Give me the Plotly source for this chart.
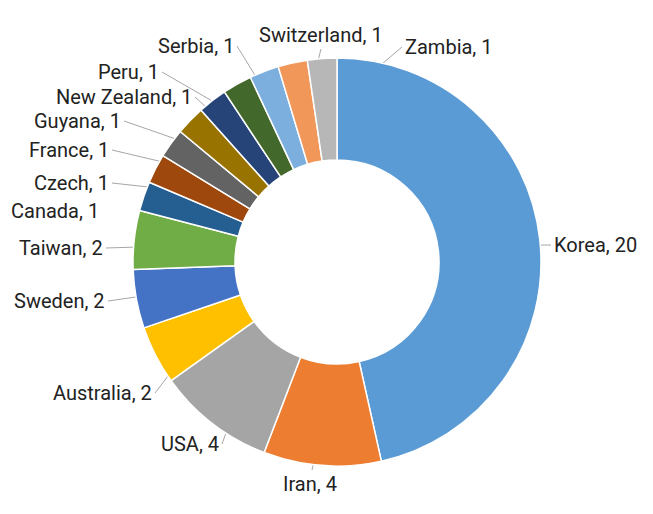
import math
import plotly.graph_objects as go

# data
countries = ["Korea", "Iran", "USA", "Australia", "Sweden", "Taiwan", "Canada",
             "Czech", "France", "Guyana", "New Zealand", "Peru", "Serbia",
             "Switzerland", "Zambia"]
counts = [20, 4, 4, 2, 2, 2, 1, 1, 1, 1, 1, 1, 1, 1, 1]
colors = ["#5B9BD5", "#ED7D31", "#A5A5A5", "#FFC000", "#4472C4", "#70AD47",
          "#255E91", "#9E480E", "#636363", "#997300", "#264478", "#43682B",
          "#7CAFDD", "#F1975A", "#B7B7B7"]

W, H = 653, 514
PAD = 8  # page body margin around the plot div
cx, cy, R = 337, 262, 204  # donut centre / radius in page pixels

# where each leader line meets its label: (x, y, text anchor, show line)
label_pos = {
    "Korea": (551, 245, "left", True),
    "Iran": (312, 470, "below", True),
    "USA": (222, 444, "right", True),
    "Australia": (155, 393, "right", True),
    "Sweden": (108, 301, "right", True),
    "Taiwan": (106, 248, "right", True),
    "Canada": (102, 211, "right", False),
    "Czech": (112, 183, "right", True),
    "France": (112, 150, "right", True),
    "Guyana": (124, 121, "right", True),
    "New Zealand": (195, 97, "right", True),
    "Peru": (162, 72, "right", True),
    "Serbia": (237, 46, "right", True),
    "Switzerland": (321, 49, "above", True),
    "Zambia": (402, 47, "left", True),
}

fw, fh = W - PAD, H - PAD

fig = go.Figure()
fig.add_trace(go.Pie(
    labels=countries, values=counts, sort=False, direction="clockwise",
    rotation=0, hole=0.5, textinfo="none", hoverinfo="label+value",
    marker=dict(colors=colors, line=dict(color="white", width=1.5)),
    domain=dict(x=[(cx - R - PAD) / fw, (cx + R - PAD) / fw],
                y=[(H - cy - R) / fh, (H - cy + R) / fh]),
    showlegend=False,
))

total = sum(counts)
cum = 0
for name, v in zip(countries, counts):
    mid = (cum + v / 2) / total * 2 * math.pi
    cum += v
    ax = cx + 0.74 * R * math.sin(mid)
    ay = cy - 0.74 * R * math.cos(mid)
    lx, ly, side, show_line = label_pos[name]
    if show_line:
        fig.add_trace(go.Scatter(x=[ax, lx], y=[ay, ly], mode="lines",
                                 line=dict(color="#A6A6A6", width=1),
                                 hoverinfo="skip", showlegend=False))
    if side == "left":
        kw = dict(x=lx + 2, y=ly, xanchor="left", yanchor="middle")
    elif side == "right":
        kw = dict(x=lx - 2, y=ly, xanchor="right", yanchor="middle")
    elif side == "below":
        kw = dict(x=lx - 2, y=ly + 1, xanchor="center", yanchor="top")
    else:
        kw = dict(x=lx, y=ly - 1, xanchor="center", yanchor="bottom")
    fig.add_annotation(text=f"{name}, {v}", showarrow=False, xref="x",
                       yref="y", borderpad=0, **kw)

fig.update_layout(
    width=fw, height=fh, margin=dict(l=0, r=0, t=0, b=0),
    paper_bgcolor="white", plot_bgcolor="rgba(0,0,0,0)",
    font=dict(family="Roboto, sans-serif", size=20, color="#222222"),
    xaxis=dict(range=[PAD, W], visible=False, fixedrange=True),
    yaxis=dict(range=[H, PAD], visible=False, fixedrange=True),
)
fig.write_html("out.html")
